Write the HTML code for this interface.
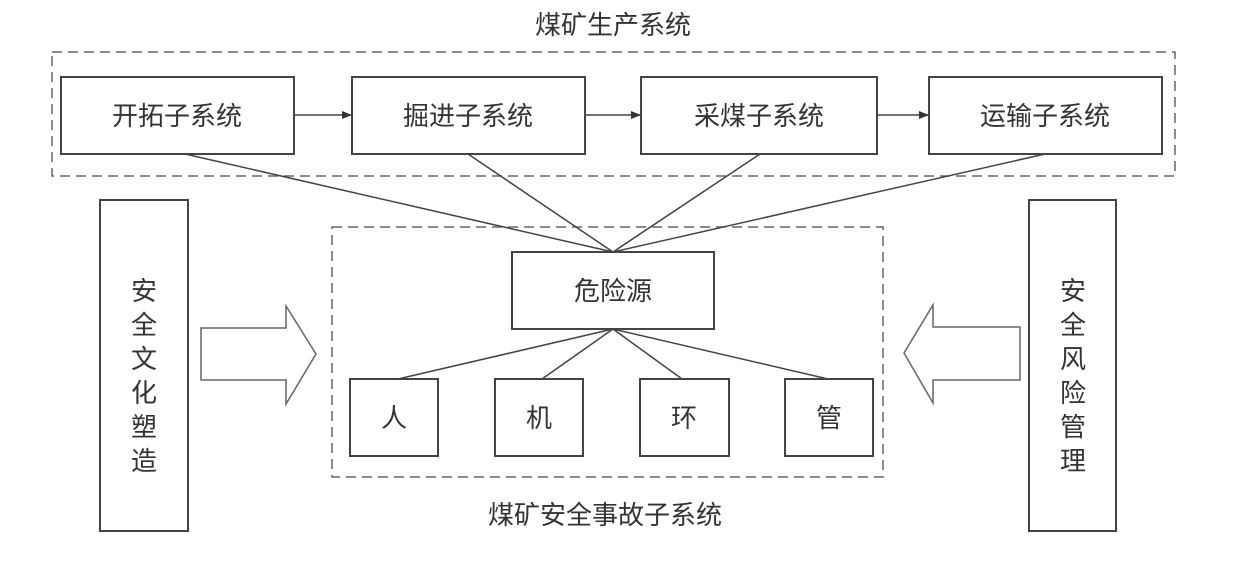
<!DOCTYPE html>
<html><head><meta charset="utf-8"><style>
html,body{margin:0;padding:0;background:#fff}
svg text{font-family:"Liberation Sans","Noto Sans CJK SC",sans-serif;fill:#333}
</style></head><body>
<svg width="1256" height="557" viewBox="0 0 1256 557" xmlns="http://www.w3.org/2000/svg">
<defs><marker id="a" markerWidth="10" markerHeight="8" refX="10" refY="4" orient="auto" markerUnits="userSpaceOnUse"><path d="M0,0 L10,4 L0,8z" fill="#333"/></marker></defs>
<g fill="none" stroke="#444" stroke-width="1.5">
<rect x="52" y="52" width="1123" height="124" stroke-dasharray="10,6" stroke="#666"/>
<rect x="332" y="227" width="551" height="250" stroke-dasharray="10,6" stroke="#666"/>
<rect x="61" y="77" width="233" height="77" stroke-width="2"/>
<rect x="352" y="77" width="233" height="77" stroke-width="2"/>
<rect x="641" y="77" width="236" height="77" stroke-width="2"/>
<rect x="929" y="77" width="233" height="77" stroke-width="2"/>
<line x1="294" y1="115" x2="352" y2="115" marker-end="url(#a)"/>
<line x1="585" y1="115" x2="641" y2="115" marker-end="url(#a)"/>
<line x1="877" y1="115" x2="929" y2="115" marker-end="url(#a)"/>
<line x1="185" y1="154" x2="613" y2="252"/>
<line x1="468" y1="154" x2="613" y2="252"/>
<line x1="760" y1="154" x2="613" y2="252"/>
<line x1="1045" y1="154" x2="613" y2="252"/>
<rect x="512" y="252" width="202" height="77" stroke-width="2"/>
<rect x="350" y="379" width="88" height="77" stroke-width="2"/>
<rect x="495" y="379" width="88" height="77" stroke-width="2"/>
<rect x="640" y="379" width="89" height="77" stroke-width="2"/>
<rect x="785" y="379" width="88" height="77" stroke-width="2"/>
<line x1="613" y1="329" x2="398" y2="379"/>
<line x1="613" y1="329" x2="542" y2="379"/>
<line x1="613" y1="329" x2="682" y2="379"/>
<line x1="613" y1="329" x2="828" y2="379"/>
<rect x="100" y="200" width="88" height="331" stroke-width="2"/>
<rect x="1029" y="200" width="87" height="331" stroke-width="2"/>
<path d="M201,328 L286,328 L286,306 L316,354 L286,404 L286,380 L201,380Z" stroke="#666"/>
<path d="M1020,327 L933,327 L933,305 L904,353 L933,403 L933,380 L1020,380Z" stroke="#666"/>
</g>
<g font-size="26" text-anchor="middle">
<text x="613" y="34">煤矿生产系统</text>
<text x="177" y="125">开拓子系统</text>
<text x="468" y="125">掘进子系统</text>
<text x="759" y="125">采煤子系统</text>
<text x="1045" y="125">运输子系统</text>
<text x="613" y="300">危险源</text>
<text x="394" y="427">人</text>
<text x="539" y="427">机</text>
<text x="684" y="427">环</text>
<text x="829" y="427">管</text>
<text x="605" y="524">煤矿安全事故子系统</text>
<g>
<text x="144" y="300">安</text><text x="144" y="334">全</text><text x="144" y="368">文</text><text x="144" y="402">化</text><text x="144" y="436">塑</text><text x="144" y="470">造</text>
<text x="1073" y="300">安</text><text x="1073" y="334">全</text><text x="1073" y="368">风</text><text x="1073" y="402">险</text><text x="1073" y="436">管</text><text x="1073" y="470">理</text>
</g>
</g>
</svg>
</body></html>
